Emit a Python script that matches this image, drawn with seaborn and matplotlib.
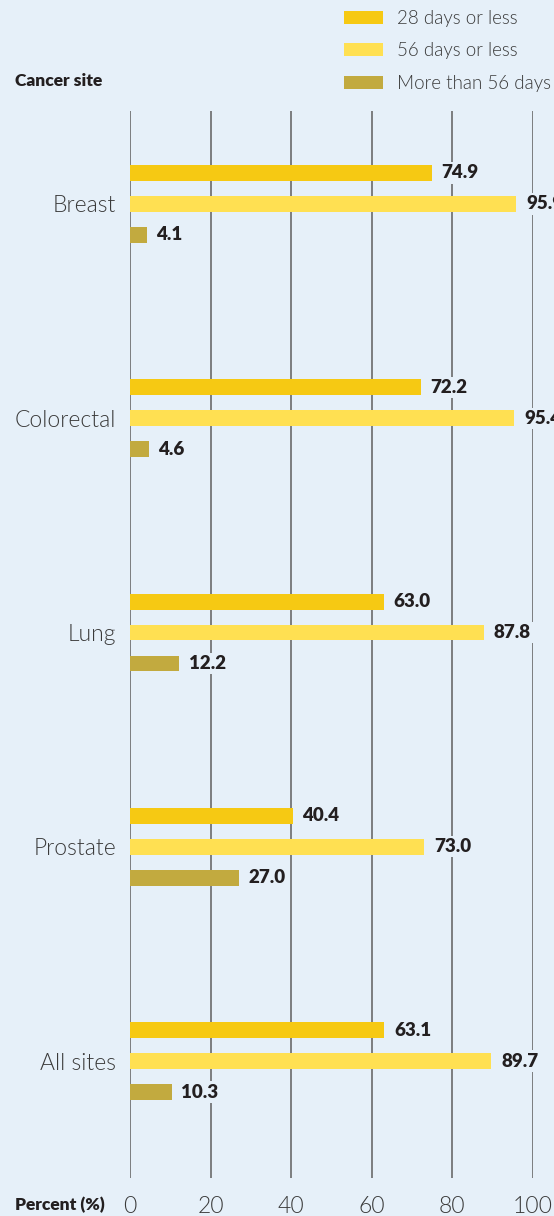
import matplotlib
matplotlib.use("Agg")
import matplotlib.pyplot as plt
import seaborn as sns
import pandas as pd

# Categories and series
sites = ["Breast", "Colorectal", "Lung", "Prostate", "All sites"]
periods = ["28 days or less", "56 days or less", "More than 56 days"]
within_28 = [74.9, 72.2, 63.0, 40.4, 63.1]
within_56 = [95.9, 95.4, 87.8, 73.0, 89.7]
over_56 = [4.1, 4.6, 12.2, 27.0, 10.3]
x_ticks = [0, 20, 40, 60, 80, 100]

BG = "#e6f0f9"
COLORS = ["#f6c913", "#ffe052", "#c2aa3f"]
TEXT = "#231f20"
SOFT = "#3a3a3a"

sns.set_theme(style="white")
plt.rcParams["font.family"] = ["Lato", "DejaVu Sans"]

rows = []
for period, vals in zip(periods, [within_28, within_56, over_56]):
    for site, v in zip(sites, vals):
        rows.append({"site": site, "period": period, "value": v})
df = pd.DataFrame(rows)

fig = plt.figure(figsize=(5.54, 12.16), dpi=100, facecolor=BG)
ax = fig.add_axes([130 / 554, 1 - 1178 / 1216, 403 / 554, (1178 - 111) / 1216])
ax.set_facecolor(BG)

sns.barplot(
    data=df, x="value", y="site", hue="period", order=sites, hue_order=periods,
    orient="h", palette=COLORS, width=0.434, gap=0.484, saturation=1,
    errorbar=None, ax=ax, zorder=3, linewidth=0,
)

ax.set_xlim(0, 100)
ax.set_ylim(4.546, -0.434)
ax.set_xticks(x_ticks)
ax.set_xticklabels([str(t) for t in x_ticks])
ax.grid(axis="x", color="#5f5f5f", linewidth=1.1, zorder=0)
ax.grid(axis="y", visible=False)
for s in ax.spines.values():
    s.set_visible(False)
ax.set_xlabel("")
ax.set_ylabel("")
ax.tick_params(axis="y", length=0, pad=10, labelsize=16.5, labelcolor=SOFT)
ax.tick_params(axis="x", length=0, pad=13, labelsize=16.5, labelcolor=SOFT)
for lbl in ax.get_yticklabels() + ax.get_xticklabels():
    lbl.set_fontweight(300)

for cont in ax.containers:
    ax.bar_label(
        cont, fmt="%.1f", padding=7, fontsize=13.5, fontweight="heavy", color=TEXT,
        clip_on=False, zorder=4,
        bbox=dict(facecolor=BG, edgecolor="none", pad=1.5),
    )

sns.move_legend(
    ax, "upper left", bbox_to_anchor=(344 / 554, 1 - 10 / 1216),
    bbox_transform=fig.transFigure, frameon=False, title=None,
    fontsize=13.5, handlelength=2.1, handleheight=0.7, handletextpad=0.7,
    labelspacing=0.82, borderaxespad=0, borderpad=0,
)
for t in ax.get_legend().get_texts():
    t.set_color(SOFT)
    t.set_fontweight(300)

fig.text(15 / 554, 1 - 81 / 1216, "Cancer site", fontsize=12.5, fontweight="heavy",
         color=TEXT, va="center", ha="left")
fig.text(15 / 554, 1 - 1205 / 1216, "Percent (%)", fontsize=12.5, fontweight="heavy",
         color=TEXT, va="center", ha="left")

fig.savefig("out.png", dpi=100, facecolor=BG)
